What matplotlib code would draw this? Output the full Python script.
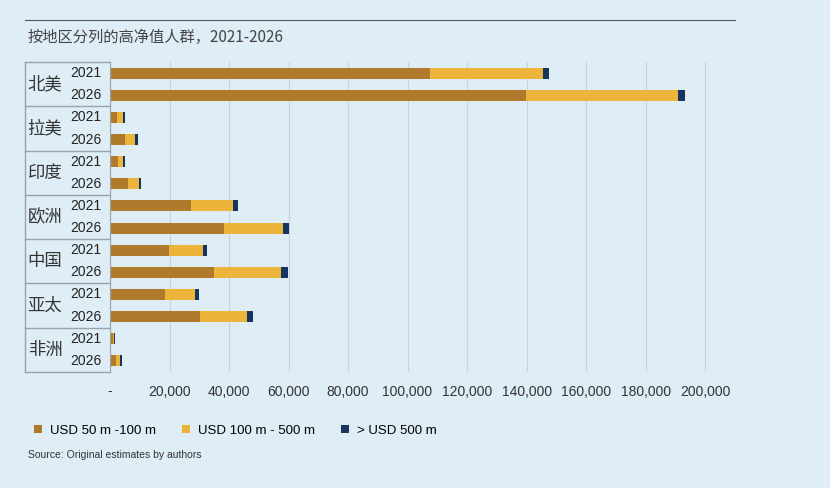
import matplotlib.pyplot as plt
import matplotlib.transforms as mtransforms
from matplotlib.lines import Line2D

# ---- data ----
regions = ["北美", "拉美", "印度", "欧洲", "中国", "亚太", "非洲"]
years = ["2021", "2026"]
usd_50_100 = [107500, 139700, 2500, 5100, 2800, 6100, 27100, 38400,
              19900, 35000, 18500, 30100, 900, 2000]
usd_100_500 = [37900, 51200, 1900, 3400, 1600, 3600, 14200, 19900,
               11300, 22400, 10000, 16000, 600, 1500]
usd_500_plus = [2100, 2300, 600, 900, 500, 700, 1600, 2000,
                1400, 2500, 1400, 2100, 200, 600]
xticks = [0, 20000, 40000, 60000, 80000, 100000, 120000, 140000, 160000, 180000, 200000]

bg = "#deedf6"
c1, c2, c3 = "#b07a2c", "#ecb43a", "#13355f"
W, H = 830, 488

fig = plt.figure(figsize=(8.3, 4.88), dpi=100, facecolor=bg)
ax = fig.add_axes([110 / W, 1 - 372 / H, 610 / W, 310 / H], facecolor=bg)

n = len(usd_50_100)
ys = list(range(n))
h = 0.5
left2 = [a + b for a, b in zip(usd_50_100, usd_100_500)]
ax.barh(ys, usd_50_100, height=h, color=c1, label="USD 50 m -100 m")
ax.barh(ys, usd_100_500, left=usd_50_100, height=h, color=c2, label="USD 100 m - 500 m")
ax.barh(ys, usd_500_plus, left=left2, height=h, color=c3, label="> USD 500 m")

ax.set_ylim(n - 0.5, -0.5)
ax.set_xlim(0, 205000)
ax.set_yticks([])
ax.set_xticks(xticks)
ax.set_xticklabels(["-"] + [f"{v:,}" for v in xticks[1:]], fontsize=10,
                   family="Liberation Sans", color="#333333")
ax.tick_params(axis="x", length=0, pad=9)
ax.grid(axis="x", color="#c8d2da", lw=0.8)
ax.set_axisbelow(True)
for s in ["top", "right", "bottom"]:
    ax.spines[s].set_visible(False)
ax.spines["left"].set_color("#9aa3aa")

# label table on the left
tr = mtransforms.blended_transform_factory(fig.transFigure, ax.transData)
for i, r in enumerate(regions):
    yc = 2 * i + 0.5
    ax.text(45 / W, yc, r, transform=tr, ha="center", va="center",
            family="Noto Serif CJK SC" if False else "Noto Sans CJK SC",
            fontsize=12.5, color="#333333")
    for j, yr in enumerate(years):
        ax.text(70 / W, 2 * i + j, yr, transform=tr, ha="left", va="center",
                family="Liberation Sans", fontsize=10, color="#222222")
    fig.add_artist(Line2D([25 / W, 110 / W], [2 * i - 0.5, 2 * i - 0.5],
                          transform=tr, color="#9aa3aa", lw=1))
fig.add_artist(Line2D([25 / W, 110 / W], [n - 0.5, n - 0.5],
                      transform=tr, color="#9aa3aa", lw=1))
fig.add_artist(Line2D([25 / W, 25 / W], [-0.5, n - 0.5],
                      transform=tr, color="#9aa3aa", lw=1))

# title
fig.add_artist(Line2D([25 / W, 735 / W], [1 - 20 / H, 1 - 20 / H], color="#555555", lw=0.8))
fig.text(28 / W, 1 - 37 / H, "按地区分列的高净值人群，2021-2026", ha="left", va="center",
         family="Noto Sans CJK SC", fontsize=11, color="#444444")

ax.legend(loc="upper left", bbox_to_anchor=(22 / W, 1 - 413 / H),
          bbox_transform=fig.transFigure, ncol=3, frameon=False,
          prop={"family": "Liberation Sans", "size": 9.5},
          handlelength=0.6, handleheight=0.6, columnspacing=2.0, handletextpad=0.6)

fig.text(28 / W, 1 - 455 / H, "Source: Original estimates by authors", ha="left", va="center",
         family="Liberation Sans", fontsize=7.5, color="#333333")

fig.savefig("out.png", dpi=100, facecolor=bg)
